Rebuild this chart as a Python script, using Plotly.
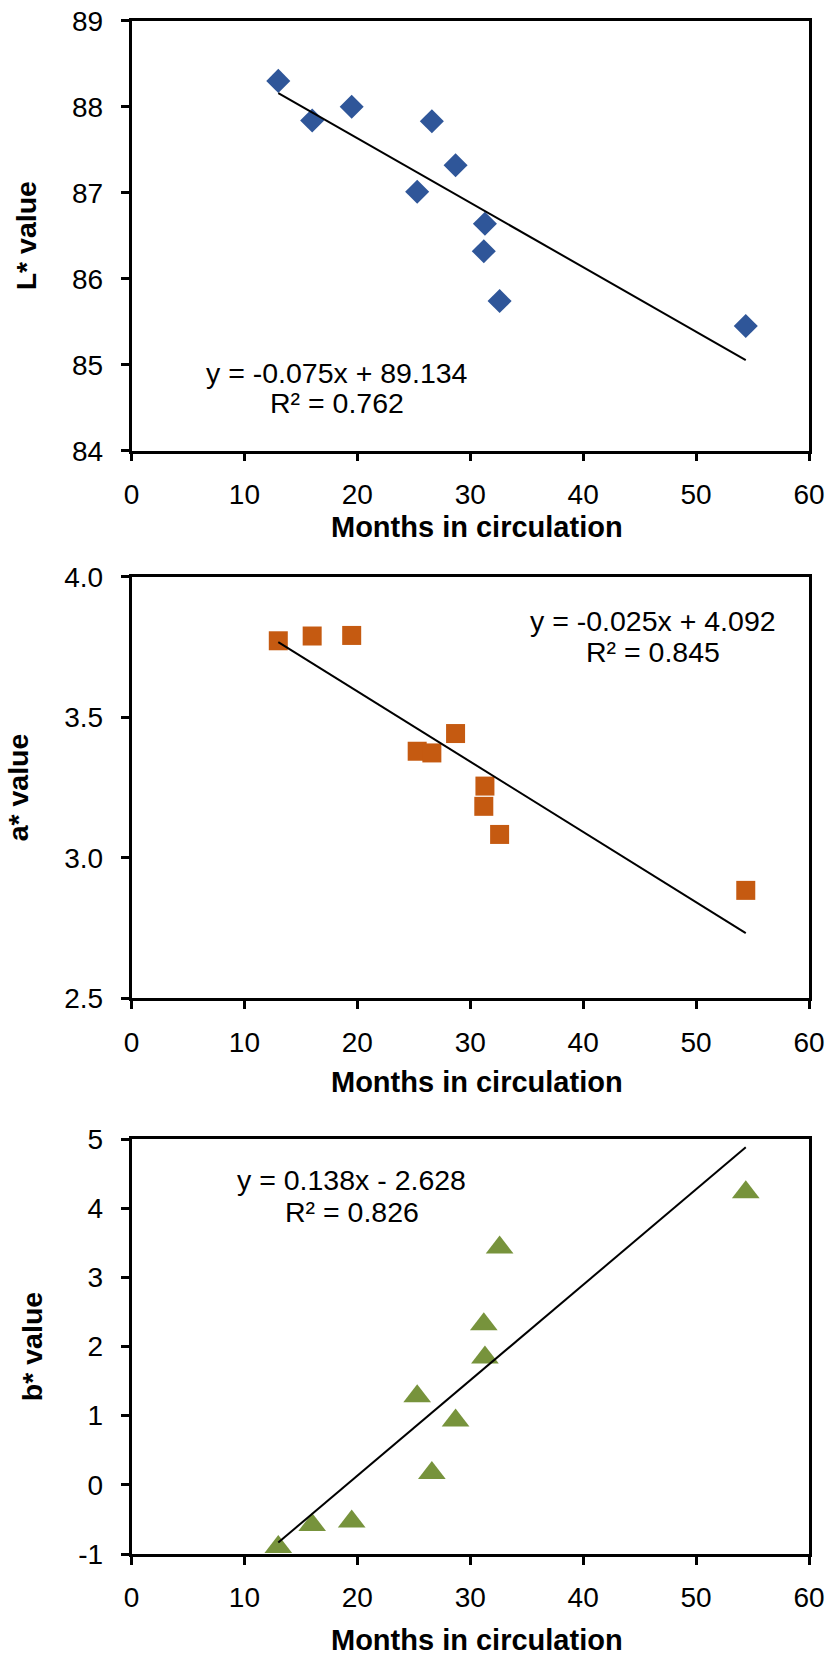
import plotly.graph_objects as go

W, H = 827, 1656

# ---- data ----
months = [13.0, 16.0, 19.5, 25.3, 26.6, 28.7, 31.2, 31.3, 32.6, 54.4]
l_values = [88.30, 87.84, 88.00, 87.01, 87.83, 87.32, 86.32, 86.64, 85.74, 85.45]
a_values = [3.772, 3.789, 3.791, 3.379, 3.373, 3.442, 3.183, 3.255, 3.083, 2.884]
b_values = [-0.90, -0.58, -0.53, 1.28, 0.17, 0.93, 2.32, 1.84, 3.43, 4.23]

trend_slopes = [-0.075, -0.025, 0.138]
trend_intercepts = [89.134, 4.092, -2.628]
equation_texts = ["y = -0.075x + 89.134", "y = -0.025x + 4.092", "y = 0.138x - 2.628"]
r2_texts = ["R² = 0.762", "R² = 0.845", "R² = 0.826"]

y_titles = ["L* value", "a* value", "b* value"]
x_title = "Months in circulation"
x_ticks = [0, 10, 20, 30, 40, 50, 60]
y_tickvals = [[84, 85, 86, 87, 88, 89], [2.5, 3.0, 3.5, 4.0], [-1, 0, 1, 2, 3, 4, 5]]
y_ticktext = [["84", "85", "86", "87", "88", "89"], ["2.5", "3.0", "3.5", "4.0"],
              ["-1", "0", "1", "2", "3", "4", "5"]]

# ---- style ----
FONT = "Liberation Sans, Arial, sans-serif"
colors = ["#2F5699", "#C55A11", "#77933C"]
symbols = ["diamond", "square", "triangle-up"]
sizes = [18.5, 19, 24]
series = [l_values, a_values, b_values]

# layout in pixels
x_left, x_right = 131.5, 809
panels_px = [(20.7, 450.7), (576.7, 998.3), (1139, 1554)]
x_label_standoff = 9
x_title_px = [(477, 527), (477, 1082), (477, 1640)]
eq_pos = [(337, 373, 403), (653, 621, 652), (351.5, 1180, 1212)]

def px_x(p):
    return p / W

def px_y(p):
    return 1 - p / H

fig = go.Figure()

for i in range(3):
    n = "" if i == 0 else str(i + 1)
    xa, ya = "x" + n, "y" + n
    top, bot = panels_px[i]
    ys = series[i]
    # data points
    fig.add_trace(go.Scatter(
        x=months, y=ys, mode="markers", xaxis=xa, yaxis=ya,
        marker=dict(symbol=symbols[i], size=sizes[i], color=colors[i],
                    line=dict(width=0)),
        showlegend=False, cliponaxis=False))
    # linear trend line
    xs = [min(months), max(months)]
    yl = [trend_slopes[i] * v + trend_intercepts[i] for v in xs]
    fig.add_trace(go.Scatter(
        x=xs, y=yl, mode="lines", xaxis=xa, yaxis=ya,
        line=dict(color="black", width=2), showlegend=False, cliponaxis=False))

    axis_common = dict(showline=True, linecolor="black", linewidth=2.5, mirror=True,
                       ticks="outside", ticklen=8, tickwidth=2.5, tickcolor="black",
                       showgrid=False, zeroline=False, automargin=False,
                       ticklabeloverflow="allow",
                       tickfont=dict(family=FONT, size=28, color="black"))
    fig.layout["xaxis" + n] = dict(
        domain=[px_x(x_left), px_x(x_right)], anchor=ya, range=[0, 60],
        tickvals=x_ticks, ticklabelstandoff=x_label_standoff,
        **axis_common)
    fig.layout["yaxis" + n] = dict(
        domain=[px_y(bot), px_y(top)], anchor=xa,
        range=[y_tickvals[i][0], y_tickvals[i][-1]],
        tickvals=y_tickvals[i], ticktext=y_ticktext[i], ticklabelstandoff=12,
        title=dict(text="<b>%s</b>" % y_titles[i], standoff=28,
                   font=dict(family=FONT, size=28.5, color="black")),
        **axis_common)

    # x-axis title
    tx, ty = x_title_px[i]
    fig.add_annotation(text="<b>%s</b>" % x_title, x=px_x(tx), y=px_y(ty),
                       xref="paper", yref="paper", xanchor="center", yanchor="middle",
                       showarrow=False, font=dict(family=FONT, size=29, color="black"))

    # trend line equation and R²
    cx, y1, y2 = eq_pos[i]
    for txt, yy in ((equation_texts[i], y1), (r2_texts[i], y2)):
        fig.add_annotation(text=txt, x=px_x(cx), y=px_y(yy), xref="paper", yref="paper",
                           xanchor="center", yanchor="middle", showarrow=False,
                           font=dict(family=FONT, size=28.5, color="black"))

fig.update_layout(width=W, height=H, margin=dict(l=0, r=0, t=0, b=0, autoexpand=False),
                  paper_bgcolor="white", plot_bgcolor="white",
                  font=dict(family=FONT, color="black"))

# remove the default 8px page margin so the 827x1656 figure fills the window exactly
fig.write_html("out.html", config={"displayModeBar": False},
               post_script="document.body.style.margin='0';")
